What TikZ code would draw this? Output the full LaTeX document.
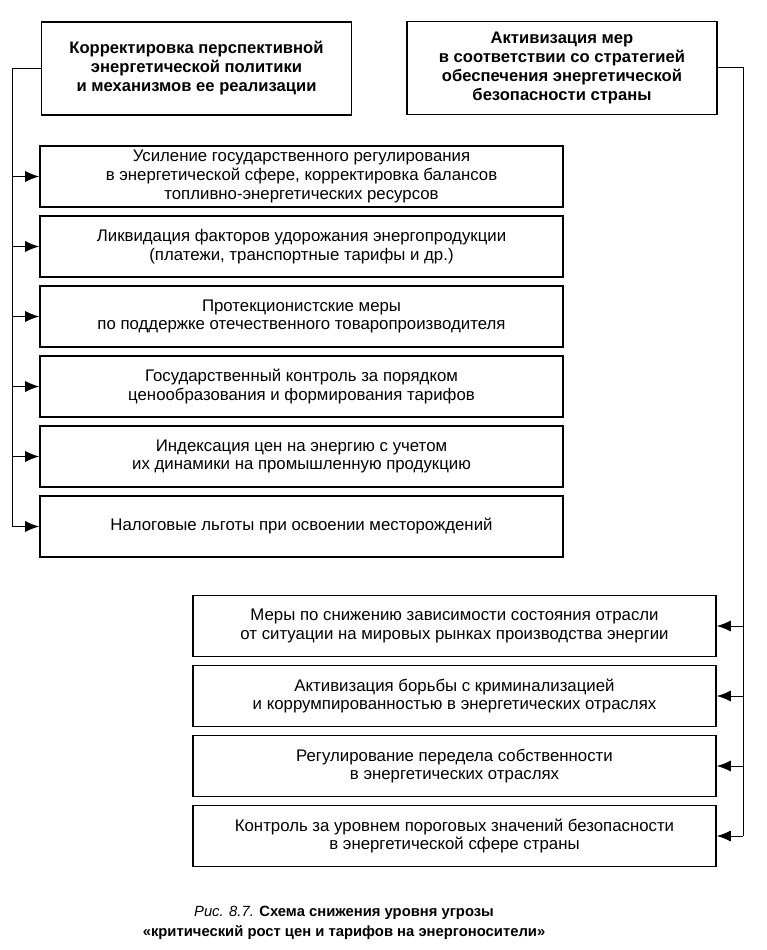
\documentclass[tikz,border=0pt]{standalone}
\usepackage{fontspec}
\setmainfont{Liberation Sans}
\usetikzlibrary{arrows.meta}
\tikzset{
  box/.style={draw, line width=1.6pt, minimum width=523pt, minimum height=61pt, align=center, inner sep=2pt, font=\fontsize{16.8}{18.8}\selectfont},
  topbox/.style={draw, line width=1.8pt, minimum width=310pt, minimum height=93pt, align=center, inner sep=2pt, font=\fontsize{16.6}{19}\selectfont\bfseries},
  conn/.style={line width=1pt},
  arr/.style={line width=1pt, -{Latex[length=14pt,width=11pt]}},
}
\begin{document}
\begin{tikzpicture}[x=1pt,y=-1pt]
\useasboundingbox (0,0) rectangle (766,950);
% top boxes
\node[topbox] (ltop) at (196.5,68.5) {Корректировка перспективной\\энергетической политики\\и механизмов ее реализации};
\node[topbox] (rtop) at (562,68) {Активизация мер\\в соответствии со стратегией\\обеспечения энергетической\\безопасности страны};
% left boxes
\node[box] (l1) at (301.5,176.5) {Усиление государственного регулирования\\в энергетической сфере, корректировка балансов\\топливно-энергетических ресурсов};
\node[box] (l2) at (301.5,246.5) {Ликвидация факторов удорожания энергопродукции\\(платежи, транспортные тарифы и др.)};
\node[box] (l3) at (301.5,316.5) {Протекционистские меры\\по поддержке отечественного товаропроизводителя};
\node[box] (l4) at (301.5,386.5) {Государственный контроль за порядком\\ценообразования и формирования тарифов};
\node[box] (l5) at (301.5,456.5) {Индексация цен на энергию с учетом\\их динамики на промышленную продукцию};
\node[box] (l6) at (301.5,526.5) {Налоговые льготы при освоении месторождений};
% right boxes
\node[box] (r1) at (454.5,626) {Меры по снижению зависимости состояния отрасли\\от ситуации на мировых рынках производства энергии};
\node[box] (r2) at (454.5,696) {Активизация борьбы с криминализацией\\и коррумпированностью в энергетических отраслях};
\node[box] (r3) at (454.5,766) {Регулирование передела собственности\\в энергетических отраслях};
\node[box] (r4) at (454.5,836) {Контроль за уровнем пороговых значений безопасности\\в энергетической сфере страны};
% buses
\coordinate (lbus) at (12,68.5);
\coordinate (rbus) at (743,68);
\draw[conn] (ltop.west) -- (lbus) -- (lbus |- l6.west);
\foreach \b in {l1,l2,l3,l4,l5,l6}{
  \draw[arr] (lbus |- \b.west) -- (\b.west);
}
\draw[conn] (rtop.east) -- (rbus) -- (rbus |- r4.east);
\foreach \b in {r1,r2,r3,r4}{
  \draw[arr] (rbus |- \b.east) -- (\b.east);
}
% caption
\node[align=center, font=\fontsize{14.8}{20}\selectfont] (cap) at (344,923) {\textit{Рис. 8.7.} \textbf{Схема снижения уровня угрозы}\\\textbf{«критический рост цен и тарифов на энергоносители»}};
\end{tikzpicture}
\end{document}
